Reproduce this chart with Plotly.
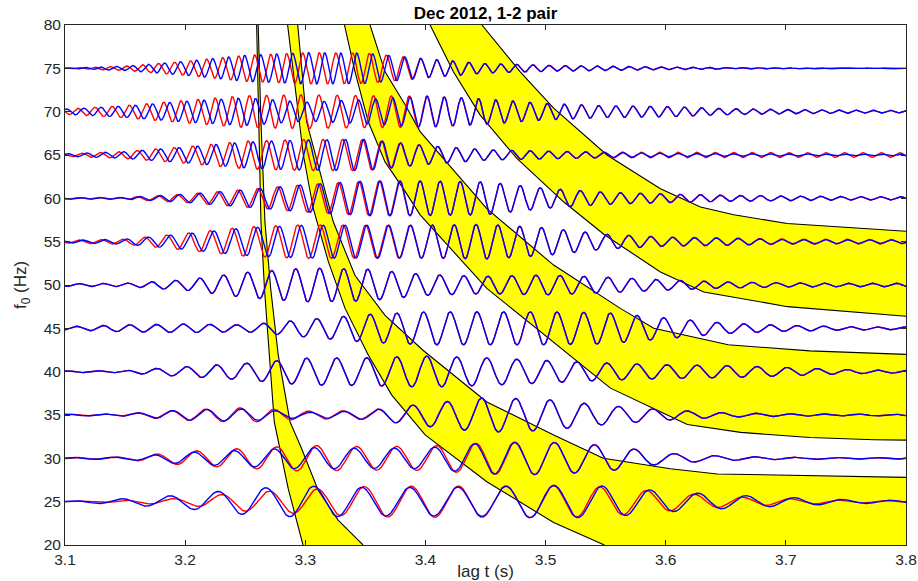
import numpy as np
import plotly.graph_objects as go

# ---------------- data ----------------
X_RANGE = [3.1, 3.8]
Y_RANGE = [20, 80]
X_TICKS = [3.1, 3.2, 3.3, 3.4, 3.5, 3.6, 3.7, 3.8]
Y_TICKS = [20, 25, 30, 35, 40, 45, 50, 55, 60, 65, 70, 75, 80]

# centre frequencies of the traces (Hz)
F0 = [25, 30, 35, 40, 45, 50, 55, 60, 65, 70, 75]

# lag knots where the envelopes were read (s)
KNOT_T = [3.10, 3.15, 3.20, 3.25, 3.30, 3.35, 3.40, 3.45, 3.50, 3.55, 3.60, 3.65, 3.70, 3.75, 3.80]

# envelope amplitude (Hz units on the y axis) of each red trace at the knots
ENV_RED = [
    [0.05, 0.15, 0.40, 1.10, 1.40, 1.75, 1.80, 1.80, 1.85, 1.70, 1.10, 0.60, 0.35, 0.15, 0.10],
    [0.08, 0.15, 0.80, 1.15, 1.50, 1.35, 1.40, 1.80, 1.90, 1.50, 0.60, 0.25, 0.12, 0.10, 0.10],
    [0.08, 0.15, 0.60, 0.85, 0.45, 0.50, 1.30, 2.00, 1.80, 1.10, 0.60, 0.25, 0.15, 0.10, 0.10],
    [0.10, 0.15, 0.58, 0.96, 1.55, 1.60, 1.80, 1.60, 1.30, 1.00, 0.80, 0.70, 0.50, 0.25, 0.15],
    [0.20, 0.40, 0.50, 0.40, 1.00, 1.60, 1.90, 1.90, 1.90, 1.80, 1.20, 0.60, 0.35, 0.20, 0.15],
    [0.15, 0.20, 0.60, 1.45, 1.95, 1.85, 1.20, 1.00, 1.15, 0.90, 0.60, 0.35, 0.25, 0.20, 0.20],
    [0.15, 0.30, 0.96, 1.70, 1.95, 1.90, 1.90, 2.00, 1.60, 0.85, 0.55, 0.45, 0.30, 0.28, 0.25],
    [0.10, 0.12, 0.48, 1.00, 1.60, 2.00, 2.00, 1.90, 1.15, 0.70, 0.50, 0.35, 0.28, 0.20, 0.18],
    [0.15, 0.40, 0.95, 1.60, 1.80, 1.80, 1.10, 0.60, 0.45, 0.35, 0.32, 0.30, 0.28, 0.27, 0.25],
    [0.30, 0.70, 1.30, 1.85, 1.95, 1.85, 1.80, 1.45, 0.95, 0.67, 0.60, 0.35, 0.25, 0.18, 0.13],
    [0.05, 0.25, 0.80, 1.50, 1.80, 1.75, 1.10, 0.55, 0.35, 0.25, 0.15, 0.08, 0.05, 0.03, 0.02],
]

# envelope amplitude of each blue trace at the knots
ENV_BLUE = [
    [0.05, 0.35, 0.80, 1.50, 1.80, 1.65, 1.65, 1.70, 1.90, 1.80, 1.20, 0.80, 0.50, 0.25, 0.15],
    [0.08, 0.15, 0.68, 0.95, 1.25, 1.15, 1.20, 1.80, 1.90, 1.50, 0.60, 0.25, 0.12, 0.10, 0.10],
    [0.08, 0.15, 0.60, 0.70, 0.30, 0.50, 1.30, 2.00, 1.80, 1.10, 0.60, 0.25, 0.15, 0.10, 0.10],
    [0.10, 0.15, 0.58, 0.96, 1.55, 1.60, 1.80, 1.60, 1.30, 1.00, 0.80, 0.70, 0.50, 0.25, 0.15],
    [0.20, 0.40, 0.50, 0.40, 1.00, 1.60, 1.90, 1.90, 1.90, 1.80, 1.20, 0.60, 0.35, 0.20, 0.15],
    [0.15, 0.20, 0.60, 1.45, 1.95, 1.85, 1.20, 1.00, 1.15, 0.90, 0.60, 0.35, 0.25, 0.20, 0.20],
    [0.15, 0.30, 0.90, 1.60, 1.90, 1.90, 1.90, 2.00, 1.60, 0.85, 0.50, 0.40, 0.25, 0.22, 0.20],
    [0.10, 0.12, 0.48, 1.00, 1.60, 2.00, 2.00, 1.90, 1.15, 0.70, 0.50, 0.35, 0.28, 0.20, 0.18],
    [0.15, 0.40, 0.90, 1.50, 1.75, 1.80, 1.10, 0.60, 0.45, 0.30, 0.20, 0.15, 0.12, 0.10, 0.10],
    [0.30, 0.65, 1.20, 1.60, 1.10, 1.40, 1.80, 1.45, 0.95, 0.67, 0.60, 0.35, 0.25, 0.18, 0.13],
    [0.05, 0.25, 0.80, 1.50, 1.80, 1.75, 1.10, 0.55, 0.35, 0.25, 0.15, 0.08, 0.05, 0.03, 0.02],
]

# time of one blue crest of each trace (s)
PEAK_T = [3.2670, 3.2741, 3.2466, 3.2761, 3.3095, 3.2720, 3.2603, 3.2456, 3.2718, 3.2728, 3.2895]

# delay of the red crests relative to the blue ones at the knots (s)
RED_SHIFT = [
    [0.003, 0.003, 0.003, 0.003, 0.003, 0.002, 0.001, 0.0, 0.0, -0.002, -0.003, -0.003, -0.003, -0.003, -0.003],
    [0.002, 0.002, 0.002, 0.002, 0.002, 0.002, 0.002, 0.001, 0.0, 0.0, 0.0, 0.0, 0.0, 0.0, 0.0],
    [-0.001, -0.001, -0.001, -0.001, -0.001, -0.001, 0.0, 0.0, 0.0, 0.0, 0.0, 0.0, 0.0, 0.0, 0.0],
    [0.0] * 15,
    [0.0] * 15,
    [0.0] * 15,
    [-0.003, -0.003, -0.003, -0.003, -0.003, -0.001, 0.0, 0.0, 0.0, 0.0, 0.0, 0.0, 0.0, 0.0, 0.0],
    [-0.002, -0.002, -0.002, -0.002, -0.002, -0.001, 0.0, 0.0, 0.0, 0.0, 0.0, 0.0, 0.0, 0.0, 0.0],
    [-0.004, -0.004, -0.004, -0.004, -0.004, -0.001, 0.0, 0.0, 0.0, 0.0, 0.0, 0.0, 0.0, 0.0, 0.0],
    [-0.005, -0.005, -0.005, -0.005, -0.005, -0.002, 0.0, 0.0, 0.0, 0.0, 0.0, 0.0, 0.0, 0.0, 0.0],
    [-0.005, -0.005, -0.005, -0.005, -0.005, -0.003, 0.0, 0.0, 0.0, 0.0, 0.0, 0.0, 0.0, 0.0, 0.0],
]

# arrival-window boundaries (lag t in s, frequency f in Hz)
B1L_T = [3.2595, 3.2612, 3.2631, 3.2660, 3.2698, 3.2742, 3.2858, 3.2981]
B1L_F = [80.0, 68.8, 57.3, 49.6, 41.9, 34.2, 26.5, 20.0]
B1R_T = [3.2608, 3.2631, 3.2664, 3.2712, 3.2775, 3.2815, 3.2873, 3.2964, 3.3106, 3.3273, 3.3481]
B1R_F = [80.0, 68.84, 57.29, 49.59, 41.9, 38.93, 34.2, 31.31, 26.35, 22.88, 20.0]

B2L_T = [3.2853, 3.2914, 3.2984, 3.3067, 3.3192, 3.3331, 3.3525, 3.3720, 3.3998, 3.4511, 3.5067, 3.5490]
B2L_F = [80.0, 72.7, 65.0, 58.8, 52.7, 47.3, 41.9, 37.3, 32.7, 27.3, 22.6, 20.0]
B2R_T = [3.2937, 3.3011, 3.3233, 3.3414, 3.3664, 3.3977, 3.4511, 3.5067, 3.5480, 3.6039, 3.6428, 3.8000]
B2R_F = [80.0, 68.84, 57.29, 51.1, 46.5, 42.5, 36.5, 32.7, 30.0, 28.8, 28.2, 27.8]

B3L_T = [3.3326, 3.3414, 3.3525, 3.3664, 3.3831, 3.3956, 3.4511, 3.5067, 3.5540, 3.6000, 3.6180, 3.6623, 3.7200, 3.7733, 3.8000]
B3L_F = [80.0, 74.6, 68.8, 64.2, 60.8, 58.1, 49.6, 43.4, 38.1, 35.1, 33.9, 33.0, 32.4, 32.15, 32.1]
B3R_T = [3.3539, 3.3664, 3.3831, 3.3956, 3.4511, 3.5067, 3.5622, 3.5900, 3.6520, 3.7200, 3.8000]
B3R_F = [80.0, 74.6, 70.8, 67.7, 58.8, 52.3, 47.3, 45.0, 43.1, 42.4, 42.0]

B4L_T = [3.4039, 3.4233, 3.4456, 3.4761, 3.5150, 3.5490, 3.5956, 3.6317, 3.7014, 3.8000]
B4L_F = [80.0, 74.6, 69.6, 64.6, 59.6, 55.8, 51.5, 49.2, 47.5, 46.4]
B4R_T = [3.4470, 3.4789, 3.5067, 3.5511, 3.5956, 3.6289, 3.6567, 3.7011, 3.8000]
B4R_F = [80.0, 74.6, 70.4, 65.0, 61.1, 59.0, 58.1, 57.1, 56.2]

TITLE = "Dec 2012, 1-2 pair"
X_LABEL = "lag t (s)"
Y_LABEL = "f<sub>0</sub> (Hz)"

# ---------------- figure ----------------
FONT = "Liberation Sans, Arial, Helvetica, sans-serif"
TXT = "#262626"
YELLOW = "#FFFF00"

fig = go.Figure()

bands = [
    (B1L_T, B1L_F, B1R_T, B1R_F, None),
    (B2L_T, B2L_F, B2R_T, B2R_F, (X_RANGE[1], Y_RANGE[0])),
    (B3L_T, B3L_F, B3R_T, B3R_F, None),
    (B4L_T, B4L_F, B4R_T, B4R_F, None),
]

for lt, lf, rt, rf, corner in bands:
    xs = list(lt)
    ys = list(lf)
    if corner is not None:
        xs.append(corner[0])
        ys.append(corner[1])
    xs += list(rt)[::-1]
    ys += list(rf)[::-1]
    fig.add_trace(go.Scatter(x=xs, y=ys, mode="lines", fill="toself",
                             fillcolor=YELLOW, line=dict(width=0),
                             hoverinfo="skip"))

for lt, lf, rt, rf, corner in bands:
    for bx, by in ((lt, lf), (rt, rf)):
        fig.add_trace(go.Scatter(x=bx, y=by, mode="lines",
                                 line=dict(color="black", width=1.1),
                                 hoverinfo="skip"))

T = np.linspace(X_RANGE[0], X_RANGE[1], 3501)
for i, f0 in enumerate(F0):
    env_r = np.interp(T, KNOT_T, ENV_RED[i])
    env_b = np.interp(T, KNOT_T, ENV_BLUE[i])
    shift = np.interp(T, KNOT_T, RED_SHIFT[i])
    y_blue = f0 + env_b * np.cos(2 * np.pi * f0 * (T - PEAK_T[i]))
    y_red = f0 + env_r * np.cos(2 * np.pi * f0 * (T - PEAK_T[i] - shift))
    fig.add_trace(go.Scatter(x=T, y=y_red, mode="lines",
                             line=dict(color="#FF0000", width=1.4)))
    fig.add_trace(go.Scatter(x=T, y=y_blue, mode="lines",
                             line=dict(color="#0000FF", width=1.4)))

axis_common = dict(
    showgrid=False, zeroline=False, showline=True, linecolor=TXT, linewidth=1,
    mirror="ticks", ticks="inside", ticklen=5, tickcolor=TXT, tickwidth=1,
    tickfont=dict(family=FONT, size=15.5, color=TXT), automargin=False,
)

fig.update_xaxes(range=X_RANGE, tickvals=X_TICKS,
                 ticktext=[f"{v:g}" for v in X_TICKS],
                 title=dict(text=X_LABEL, font=dict(family=FONT, size=17, color=TXT), standoff=2),
                 **axis_common)
fig.update_yaxes(range=Y_RANGE, tickvals=Y_TICKS,
                 ticktext=[str(v) for v in Y_TICKS],
                 title=dict(text=Y_LABEL, font=dict(family=FONT, size=17, color=TXT), standoff=12),
                 **axis_common)

fig.update_layout(
    width=918, height=581,
    margin=dict(l=65, r=12, t=25, b=36, autoexpand=False),
    paper_bgcolor="white", plot_bgcolor="white",
    showlegend=False,
    title=dict(text=f"<b>{TITLE}</b>", x=0.5, xref="paper", xanchor="center",
               y=1 - 13.5 / 581, yref="container", yanchor="middle",
               font=dict(family=FONT, size=17, color="black")),
)

fig.write_html("out.html")
